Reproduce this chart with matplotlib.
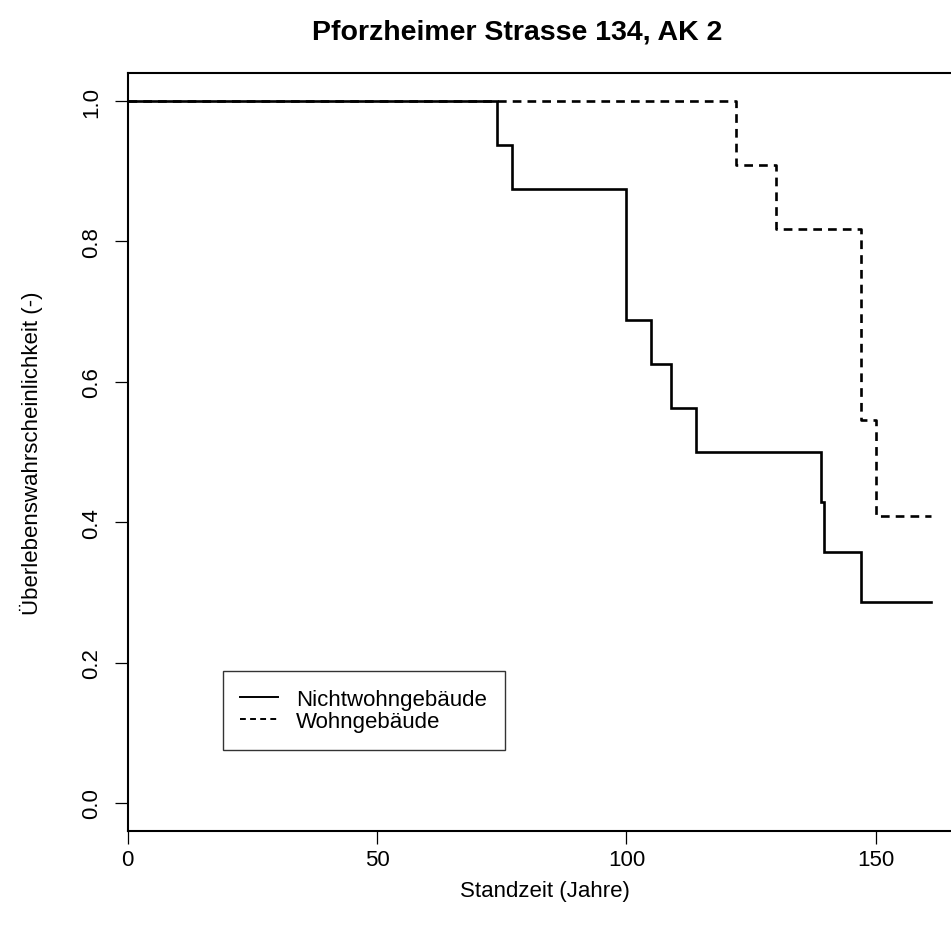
import matplotlib
matplotlib.use("Agg")
import matplotlib.pyplot as plt
from matplotlib.lines import Line2D

plt.rcParams['font.family'] = ['Liberation Sans', 'DejaVu Sans']

title = "Pforzheimer Strasse 134, AK 2"
xlabel = "Standzeit (Jahre)"
ylabel = "Überlebenswahrscheinlichkeit (-)"
series_names = ["Nichtwohngebäude", "Wohngebäude"]

t_nwg = [0, 74, 77, 100, 105, 109, 114, 139, 139.7, 147, 161]
s_nwg = [1.0, 0.9375, 0.875, 0.6875, 0.625, 0.5625, 0.5, 0.4286, 0.3571, 0.2857, 0.2857]

t_wg = [0, 122, 130, 147, 150, 161]
s_wg = [1.0, 0.9091, 0.8182, 0.5455, 0.4091, 0.4091]

xticks = [0, 50, 100, 150]
yticks = [0.0, 0.2, 0.4, 0.6, 0.8, 1.0]

W, H = 951, 928
fig = plt.figure(figsize=(W / 100, H / 100), dpi=100)
left, right, bottom, top = 127.5, 962.9, 832, 74
ax = fig.add_axes([left / W, (H - bottom) / H, (right - left) / W, (bottom - top) / H])

lw = 1.9
ax.plot(t_nwg, s_nwg, drawstyle='steps-post', color='black', lw=lw, solid_joinstyle='miter')
ax.plot(t_wg, s_wg, drawstyle='steps-post', color='black', lw=lw, dashes=(3.3, 2.3))

ax.set_xlim(0, 161 * 1.04)
ax.set_ylim(-0.04, 1.04)
ax.set_xticks(xticks)
ax.set_xticklabels([str(v) for v in xticks])
ax.set_yticks(yticks)
ax.set_yticklabels([f"{v:.1f}" for v in yticks], rotation=90, va='center')

for s in ax.spines.values():
    s.set_linewidth(1.5)
ax.tick_params(axis='both', direction='out', length=9.5, width=0.9, labelsize=16, colors='black')
ax.tick_params(axis='x', pad=3.5)
ax.tick_params(axis='y', pad=9)

ax.set_xlabel(xlabel, fontsize=16, labelpad=7)
ax.set_ylabel(ylabel, fontsize=16, labelpad=27)
fig.text(517 / W, 1 - 33 / H, title, ha='center', va='center',
         fontsize=20.5, fontweight='bold')

handles = [Line2D([], [], color='black', lw=1.4),
           Line2D([], [], color='black', lw=1.4, dashes=(3, 2.2))]
leg = ax.legend(handles, series_names, loc='upper left',
                bbox_to_anchor=((222.7 - left) / (right - left), (bottom - 672) / (bottom - top)),
                fontsize=16, frameon=True, fancybox=False, edgecolor='black',
                handlelength=1.7, handletextpad=0.8, borderpad=0.8, labelspacing=0.05,
                borderaxespad=0)
leg.get_frame().set_linewidth(1.0)

fig.savefig("out.png", dpi=100)
